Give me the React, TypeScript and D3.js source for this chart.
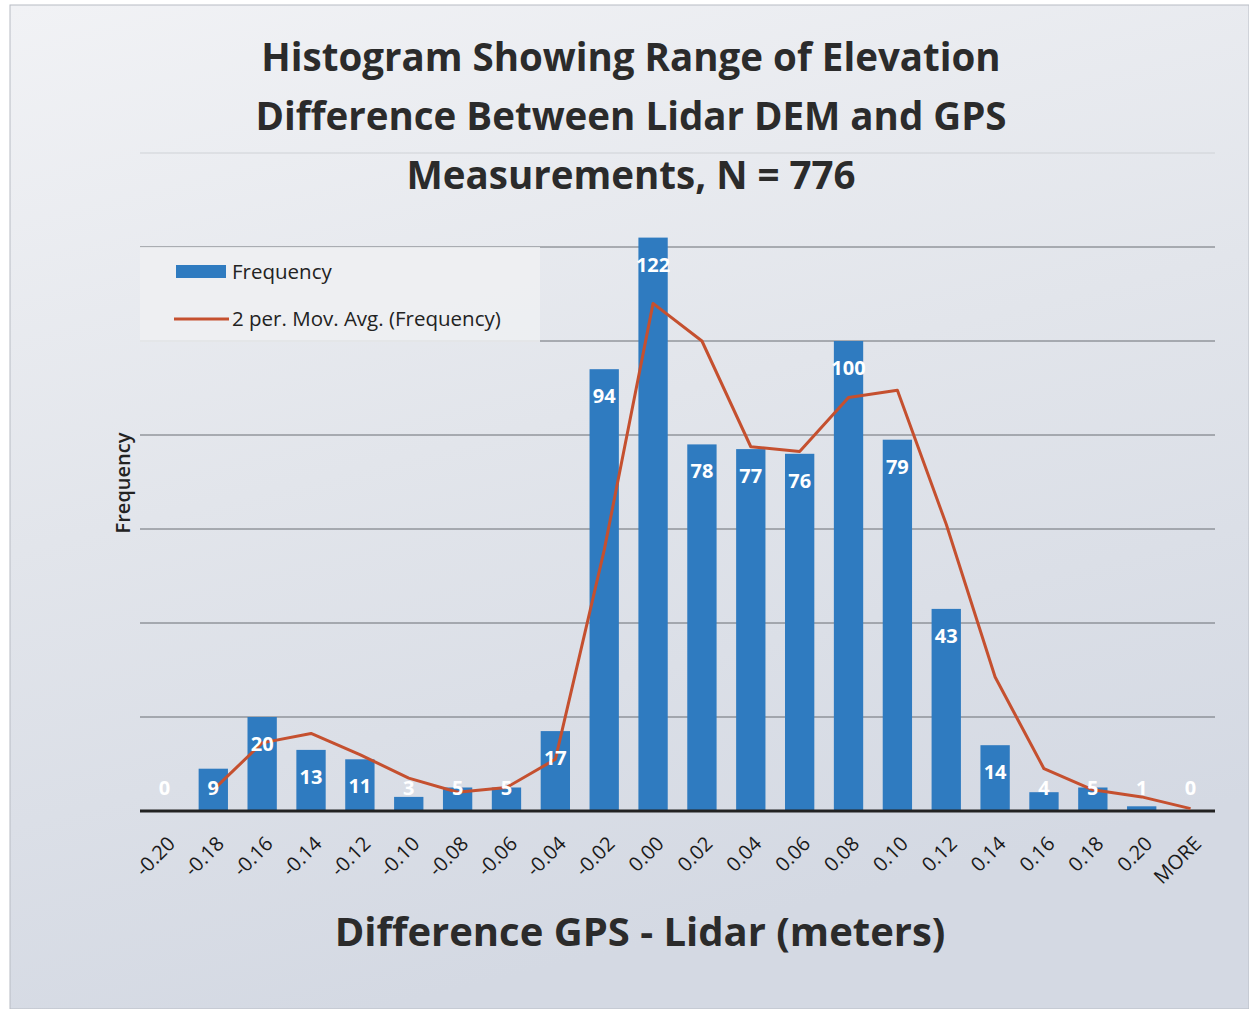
import React from 'react';
import * as d3 from 'd3';

const categories = ['-0.20', '-0.18', '-0.16', '-0.14', '-0.12', '-0.10', '-0.08', '-0.06', '-0.04', '-0.02',
  '0.00', '0.02', '0.04', '0.06', '0.08', '0.10', '0.12', '0.14', '0.16', '0.18', '0.20', 'MORE'];
const frequency = [0, 9, 20, 13, 11, 3, 5, 5, 17, 94, 122, 78, 77, 76, 100, 79, 43, 14, 4, 5, 1, 0];
const yTicks = [20, 40, 60, 80, 100, 120, 140];
const titleLines = ['Histogram Showing Range of Elevation', 'Difference Between Lidar DEM and GPS', 'Measurements, N = 776'];

const W = 1249;
const H = 1009;
const left = 140;
const right = 1215;
const top = 153;
const bottom = 811;
const font = '"Open Sans", "Noto Sans", sans-serif';

const App = () => {
  const x = d3.scaleBand().domain(categories).range([left, right]).paddingInner(0.4).paddingOuter(0.2);
  const y = d3.scaleLinear().domain([0, 140]).range([bottom, top]);

  // Excel's 2-period moving average trendline
  const movAvg = frequency
    .map((v, i) => (i === 0 ? null : { c: categories[i], v: (v + frequency[i - 1]) / 2 }))
    .filter(d => d !== null);
  const line = d3
    .line()
    .x(d => x(d.c) + x.bandwidth() / 2)
    .y(d => y(d.v));

  return (
    <svg width={W} height={H} style={{ display: 'block', position: 'absolute', left: 0, top: 0 }}>
      <defs>
        <linearGradient id="bg" x1="0" y1="0" x2="0.3" y2="1">
          <stop offset="0" stopColor="#f1f2f5" />
          <stop offset="0.5" stopColor="#e2e5eb" />
          <stop offset="1" stopColor="#d4d9e3" />
        </linearGradient>
      </defs>
      <rect x={0} y={0} width={W} height={H} fill="#ffffff" />
      <rect x={10} y={5} width={W - 10} height={H - 5} fill="url(#bg)" stroke="#b8bcc4" strokeWidth={1} />

      {titleLines.map((t, i) => (
        <text key={t} x={631} y={71 + i * 59} textAnchor="middle" fontFamily={font} fontWeight={700}
          fontSize={38.5} fill="#2b2b2b">{t}</text>
      ))}

      {yTicks.map(t => (
        <line key={t} x1={left} x2={right} y1={y(t)} y2={y(t)} stroke={t === 140 ? '#cfd2d6' : '#6b6e74'} strokeWidth={1} />
      ))}

      {/* legend */}
      <rect x={140} y={247} width={400} height={95} fill="#eef0f2" opacity={0.85} />
      <rect x={176} y={265} width={50} height={13} fill="#2f7bc0" />
      <text x={232} y={279} fontFamily={font} fontSize={20.5} fill="#222">Frequency</text>
      <line x1={174} x2={229} y1={319} y2={319} stroke="#c5502f" strokeWidth={3} />
      <text x={232} y={326} fontFamily={font} fontSize={20.5} fill="#222">2 per. Mov. Avg. (Frequency)</text>

      {frequency.map((v, i) => (
        <rect key={categories[i]} x={x(categories[i])} y={y(v)} width={x.bandwidth()} height={bottom - y(v)}
          fill="#2f7bc0" />
      ))}

      <line x1={left} x2={right} y1={bottom} y2={bottom} stroke="#222" strokeWidth={3} />

      <path d={line(movAvg)} fill="none" stroke="#c5502f" strokeWidth={3} strokeLinejoin="round" />

      {frequency.map((v, i) => (
        <text key={categories[i]} x={x(categories[i]) + x.bandwidth() / 2} y={Math.min(y(v) + 27, bottom - 23) + 7}
          textAnchor="middle" fontFamily={font} fontWeight={700} fontSize={20} fill="#ffffff">{v}</text>
      ))}

      {categories.map(c => {
        const cx = x(c) + x.bandwidth() / 2 + 12;
        const cy = bottom + 34;
        return (
          <text key={c} x={cx} y={cy} transform={`rotate(-45 ${cx} ${cy})`} textAnchor="end" fontFamily={font}
            fontSize={20} fill="#1a1a1a">{c}</text>
        );
      })}

      <text x={0} y={0} transform="translate(130 483) rotate(-90)" textAnchor="middle" fontFamily={font}
        fontWeight={600} fontSize={20} fill="#222">Frequency</text>

      <text x={640} y={946} textAnchor="middle" fontFamily={font} fontWeight={700} fontSize={40}
        fill="#2b2b2b">Difference GPS - Lidar (meters)</text>
    </svg>
  );
};

export default App;
